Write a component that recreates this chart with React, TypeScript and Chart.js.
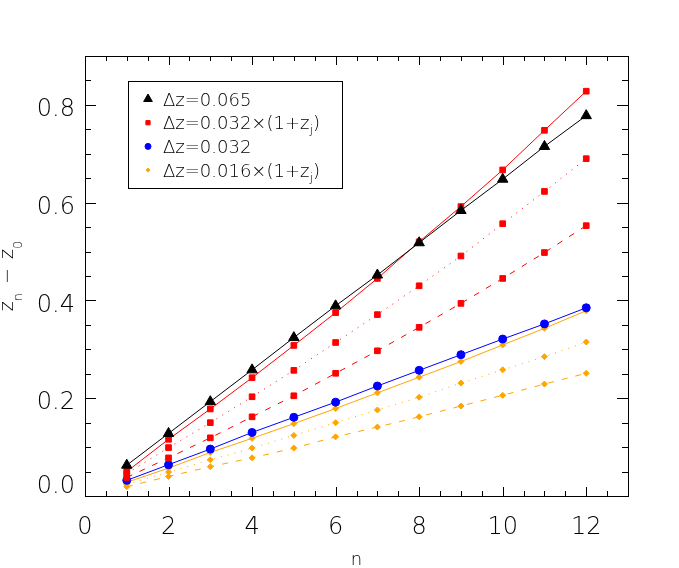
import { useEffect, useRef } from 'react'
import { Chart, registerables } from 'chart.js'
import { drawPoint } from 'chart.js/helpers'

Chart.register(...registerables)

// number of steps n
const steps = [1, 2, 3, 4, 5, 6, 7, 8, 9, 10, 11, 12]

// z_n - z_0
const black065 = [0.063, 0.128, 0.193, 0.258, 0.324, 0.389, 0.452, 0.518, 0.584, 0.648, 0.715, 0.778]
const redSolid = [0.05, 0.116, 0.178, 0.242, 0.308, 0.375, 0.445, 0.52, 0.592, 0.667, 0.748, 0.828]
const redDotted = [0.046, 0.099, 0.15, 0.203, 0.257, 0.314, 0.371, 0.43, 0.491, 0.557, 0.623, 0.69]
const redDashed = [0.038, 0.078, 0.119, 0.162, 0.205, 0.251, 0.297, 0.345, 0.394, 0.445, 0.498, 0.553]
const blue032 = [0.032, 0.064, 0.096, 0.13, 0.161, 0.192, 0.225, 0.257, 0.289, 0.321, 0.352, 0.385]
const orangeSolid = [0.028, 0.057, 0.089, 0.118, 0.148, 0.179, 0.211, 0.243, 0.275, 0.309, 0.343, 0.379]
const orangeDotted = [0.024, 0.049, 0.074, 0.098, 0.124, 0.15, 0.176, 0.202, 0.231, 0.258, 0.285, 0.315]
const orangeDashed = [0.019, 0.04, 0.06, 0.078, 0.098, 0.121, 0.141, 0.162, 0.184, 0.206, 0.229, 0.251]

const xTickValues = [0, 2, 4, 6, 8, 10, 12]
const yTickValues = [0, 0.2, 0.4, 0.6, 0.8]

type Part = { t: string; sub?: boolean; gap?: number }

const legendEntries: { dataset: number; parts: Part[] }[] = [
  { dataset: 0, parts: [{ t: 'Δz=0.065' }] },
  { dataset: 1, parts: [{ t: 'Δz=0.032×(1+z' }, { t: 'j', sub: true }, { t: ')' }] },
  { dataset: 4, parts: [{ t: 'Δz=0.032' }] },
  { dataset: 5, parts: [{ t: 'Δz=0.016×(1+z' }, { t: 'j', sub: true }, { t: ')' }] },
]

const yTitle: Part[] = [
  { t: 'z' },
  { t: 'n', sub: true, gap: 9 },
  { t: '−', gap: 9 },
  { t: 'z' },
  { t: '0', sub: true },
]

const FONT = '"DejaVu Sans", sans-serif'
const WEIGHT = 200
const BLACK = '#000000'
const RED = '#ff0000'
const BLUE = '#0000ff'
const ORANGE = '#ffa500'

const DOTTED = [1, 6]
const DASHED = [6, 8]

function series(values: number[], color: string, style: string, radius: number, dash: number[] = []) {
  return {
    data: steps.map((n, i) => ({ x: n, y: values[i] })),
    borderColor: color,
    backgroundColor: color,
    borderWidth: 1,
    borderDash: dash,
    pointStyle: style,
    pointRadius: radius,
    pointBorderWidth: 1,
    pointBackgroundColor: color,
    pointBorderColor: color,
    tension: 0,
    fill: false,
  }
}

function drawRich(
  ctx: CanvasRenderingContext2D,
  parts: Part[],
  x: number,
  y: number,
  size: number,
  subSize: number,
  drop: number,
  center: boolean,
) {
  const widths = parts.map((p) => {
    ctx.font = `${WEIGHT} ${p.sub ? subSize : size}px ${FONT}`
    return ctx.measureText(p.t).width + (p.gap || 0)
  })
  const total = widths.reduce((a, b) => a + b, 0)
  let cx = center ? x - total / 2 : x
  parts.forEach((p, i) => {
    ctx.font = `${WEIGHT} ${p.sub ? subSize : size}px ${FONT}`
    ctx.fillText(p.t, cx, p.sub ? y + drop : y)
    cx += widths[i]
  })
}

const idlFrame = {
  id: 'idlFrame',
  afterDraw(chart: any) {
    const { ctx, chartArea: a, scales } = chart
    const xs = scales.x
    const ys = scales.y
    ctx.save()
    ctx.strokeStyle = BLACK
    ctx.fillStyle = BLACK
    ctx.lineWidth = 1
    ctx.setLineDash([])

    // frame
    ctx.strokeRect(Math.round(a.left) + 0.5, Math.round(a.top) + 0.5, Math.round(a.right - a.left), Math.round(a.bottom - a.top))

    // inward ticks, mirrored on all four sides
    ctx.beginPath()
    for (let i = 0; i <= 26; i++) {
      const px = Math.round(xs.getPixelForValue(i * 0.5)) + 0.5
      const len = i % 4 === 0 ? 9 : 5
      ctx.moveTo(px, a.bottom)
      ctx.lineTo(px, a.bottom - len)
      ctx.moveTo(px, a.top)
      ctx.lineTo(px, a.top + len)
    }
    for (let i = 0; i <= 18; i++) {
      const py = Math.round(ys.getPixelForValue(i * 0.05)) + 0.5
      const len = i % 4 === 0 ? 11 : 6
      ctx.moveTo(a.left, py)
      ctx.lineTo(a.left + len, py)
      ctx.moveTo(a.right, py)
      ctx.lineTo(a.right - len, py)
    }
    ctx.stroke()

    // axis titles
    ctx.textBaseline = 'alphabetic'
    ctx.textAlign = 'left'
    ctx.font = `${WEIGHT} 18px ${FONT}`
    const nWidth = ctx.measureText('n').width
    ctx.fillText('n', (a.left + a.right) / 2 - nWidth / 2, 565)

    ctx.save()
    ctx.translate(13, (a.top + a.bottom) / 2)
    ctx.rotate(-Math.PI / 2)
    drawRich(ctx, yTitle, 0, 0, 19, 13, 9, true)
    ctx.restore()

    // legend
    const bx = a.left + 43
    const by = a.top + 25
    ctx.strokeRect(Math.round(bx) + 0.5, Math.round(by) + 0.5, 214, 107)
    legendEntries.forEach((entry, i) => {
      const ds = chart.data.datasets[entry.dataset]
      const rowY = by + 18 + i * 23.7
      ctx.fillStyle = ds.pointBackgroundColor
      ctx.strokeStyle = ds.pointBorderColor
      ctx.lineWidth = 1
      drawPoint(ctx, { pointStyle: ds.pointStyle, radius: ds.pointRadius - 1, rotation: 0, borderWidth: 1 }, bx + 20, rowY)
      ctx.fillStyle = BLACK
      drawRich(ctx, entry.parts, bx + 35, rowY + 6.6, 18, 13, 5, false)
    })
    ctx.restore()
  },
}

export default function App() {
  const canvasRef = useRef<HTMLCanvasElement>(null)
  const chartRef = useRef<Chart | null>(null)

  useEffect(() => {
    document.body.style.margin = '0'
    const canvas = canvasRef.current
    if (!canvas) return

    if (chartRef.current) {
      chartRef.current.destroy()
    }

    chartRef.current = new Chart(canvas, {
      type: 'line',
      data: {
        datasets: [
          series(black065, BLACK, 'triangle', 6),
          series(redSolid, RED, 'rect', 4),
          series(redDotted, RED, 'rect', 4, DOTTED),
          series(redDashed, RED, 'rect', 4, DASHED),
          series(blue032, BLUE, 'circle', 4),
          series(orangeSolid, ORANGE, 'rectRot', 3),
          series(orangeDotted, ORANGE, 'rectRot', 3, DOTTED),
          series(orangeDashed, ORANGE, 'rectRot', 3, DASHED),
        ] as any,
      },
      options: {
        responsive: false,
        animation: false,
        devicePixelRatio: 1,
        layout: { padding: { top: 56, right: 51, left: 0, bottom: 0 } },
        plugins: {
          legend: { display: false },
          tooltip: { enabled: false },
        },
        scales: {
          x: {
            type: 'linear',
            min: 0,
            max: 13,
            afterBuildTicks: (s: any) => {
              s.ticks = xTickValues.map((v) => ({ value: v }))
            },
            afterFit: (s: any) => {
              s.height = 72
            },
            grid: { display: false, drawTicks: false },
            border: { display: false },
            ticks: {
              color: BLACK,
              font: { family: FONT, size: 24, weight: WEIGHT },
              padding: 17,
              maxRotation: 0,
              callback: (v: any) => String(v),
            },
          },
          y: {
            type: 'linear',
            min: 0,
            max: 0.9,
            afterBuildTicks: (s: any) => {
              s.ticks = yTickValues.map((v) => ({ value: v }))
            },
            afterFit: (s: any) => {
              s.width = 85
            },
            grid: { display: false, drawTicks: false },
            border: { display: false },
            ticks: {
              color: BLACK,
              font: { family: FONT, size: 24, weight: WEIGHT },
              padding: 10,
              labelOffset: 5,
              // the bottom label sits lifted off the x axis, as in the original
              callback: (v: any) => (Number(v) === 0 ? ['0.0', ''] : Number(v).toFixed(1)),
            },
          },
        },
      },
      plugins: [idlFrame],
    })

    return () => {
      if (chartRef.current) {
        chartRef.current.destroy()
        chartRef.current = null
      }
    }
  }, [])

  return (
    <div style={{ width: 679, height: 568, background: '#fff' }}>
      <canvas ref={canvasRef} width={679} height={568} />
    </div>
  )
}
